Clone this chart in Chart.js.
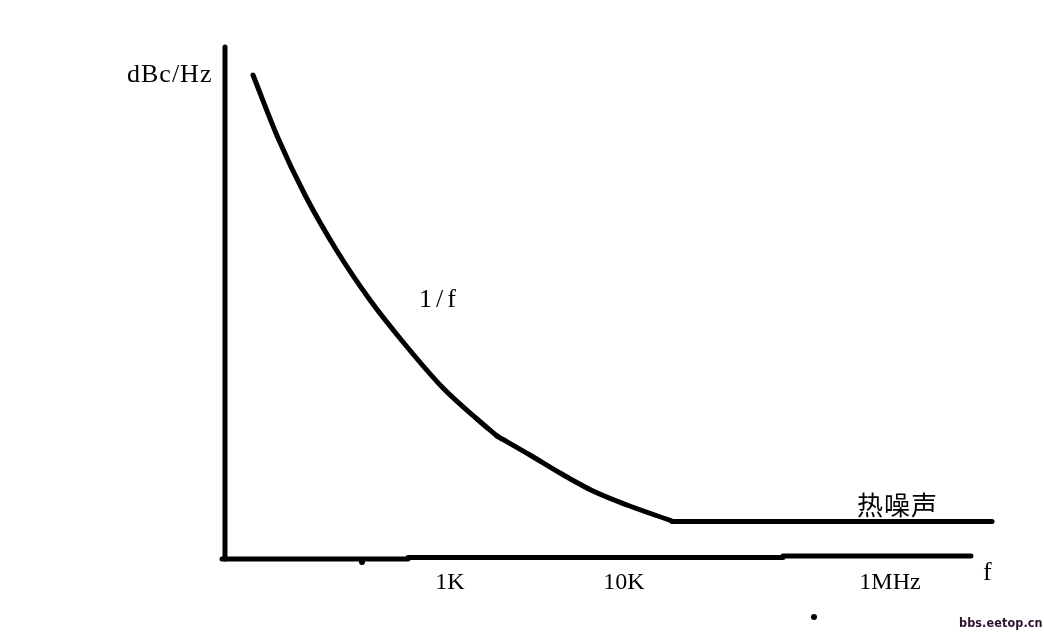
<!DOCTYPE html>
<html>
<head>
<meta charset="utf-8">
<script src="https://cdn.jsdelivr.net/npm/chart.js@4"></script>
<style>
  html, body { margin: 0; background: #fff; }
  #wrap { width: 1044px; height: 636px; }
</style>
</head>
<body>
<div id="wrap"><canvas id="chart"></canvas></div>
<script>
// sketch units: x to the right, y downward (same frame as the drawing)
// 1/f part, drawn in two strokes with a small kink between them
const flickerX = [253, 278, 305, 337, 370, 403, 443, 477, 497];
const flickerY = [75, 138, 195, 251, 300, 342, 388, 419, 436];
const bendX = [497, 530, 560, 593, 627, 672];
const bendY = [436, 455, 473, 491, 505, 521];
// thermal floor
const floorX = [672, 992];
const floorY = [521.5, 521.5];

// hand drawn axes
const yAxisX = [225, 225];
const yAxisY = [47, 559];
const xAxisX = [222, 408, 408, 783, 783, 971];
const xAxisY = [559, 559, 557.5, 557.5, 556, 556];

// stray pen dots in the sketch
const dotX = [362, 814];
const dotY = [562, 617];

const tickLabels = ["1K", "10K", "1MHz"];
const tickX = [450, 624, 890];
const tickY = 589;

const yTitle = "dBc/Hz";
const xTitle = "f";
const curveLabel = "1/f";
const floorLabel = "热噪声";
const watermark = "bbs.eetop.cn";

const pts = (xs, ys) => xs.map((x, i) => ({ x: x, y: ys[i] }));

// draws the labels at sketch coordinates
const labelPlugin = {
  id: "labels",
  afterDatasetsDraw(chart) {
    const ctx = chart.ctx;
    const sx = chart.scales.x, sy = chart.scales.y;
    const put = (txt, x, y, font, align, spacing, color) => {
      ctx.save();
      ctx.font = font;
      ctx.fillStyle = color || "#000";
      ctx.textAlign = align || "left";
      ctx.textBaseline = "alphabetic";
      ctx.letterSpacing = (spacing || 0) + "px";
      ctx.fillText(txt, sx.getPixelForValue(x), sy.getPixelForValue(y));
      ctx.restore();
    };
    const serif = "26px 'Liberation Serif', 'DejaVu Serif', serif";
    const tickFont = "24px 'Liberation Serif', 'DejaVu Serif', serif";
    put(yTitle, 127, 82, serif, "left", 1);
    put(curveLabel, 419, 307, serif, "left", 4);
    put(xTitle, 983, 580, serif, "left", 0);
    tickLabels.forEach((t, i) => put(t, tickX[i], tickY, tickFont, "center", 0));
    put(floorLabel, 857, 515, "26px 'Noto Sans CJK SC', sans-serif", "left", 1);
    put(watermark, 959, 627, "bold 12.5px 'Liberation Sans Narrow', 'DejaVu Sans Condensed', sans-serif", "left", 0.1, "#2b102b");
  }
};

const lineStyle = {
  showLine: true,
  borderColor: "#000",
  borderWidth: 5,
  pointRadius: 0,
  borderCapStyle: "round",
  borderJoinStyle: "round",
};

new Chart(document.getElementById("chart"), {
  type: "scatter",
  data: {
    datasets: [
      { ...lineStyle, data: pts(yAxisX, yAxisY) },
      { ...lineStyle, data: pts(xAxisX, xAxisY) },
      { ...lineStyle, data: pts(flickerX, flickerY), cubicInterpolationMode: "monotone" },
      { ...lineStyle, data: pts(bendX, bendY), cubicInterpolationMode: "monotone" },
      { ...lineStyle, data: pts(floorX, floorY) },
      { data: pts(dotX, dotY), pointRadius: 3, pointBackgroundColor: "#000", pointBorderWidth: 0 },
    ],
  },
  options: {
    animation: false,
    responsive: true,
    maintainAspectRatio: false,
    layout: { padding: 0, autoPadding: false },
    scales: {
      x: { type: "linear", display: false, min: 0, max: 1044 },
      y: { type: "linear", display: false, min: 0, max: 636, reverse: true },
    },
    plugins: { legend: { display: false }, tooltip: { enabled: false } },
  },
  plugins: [labelPlugin],
});
</script>
</body>
</html>
